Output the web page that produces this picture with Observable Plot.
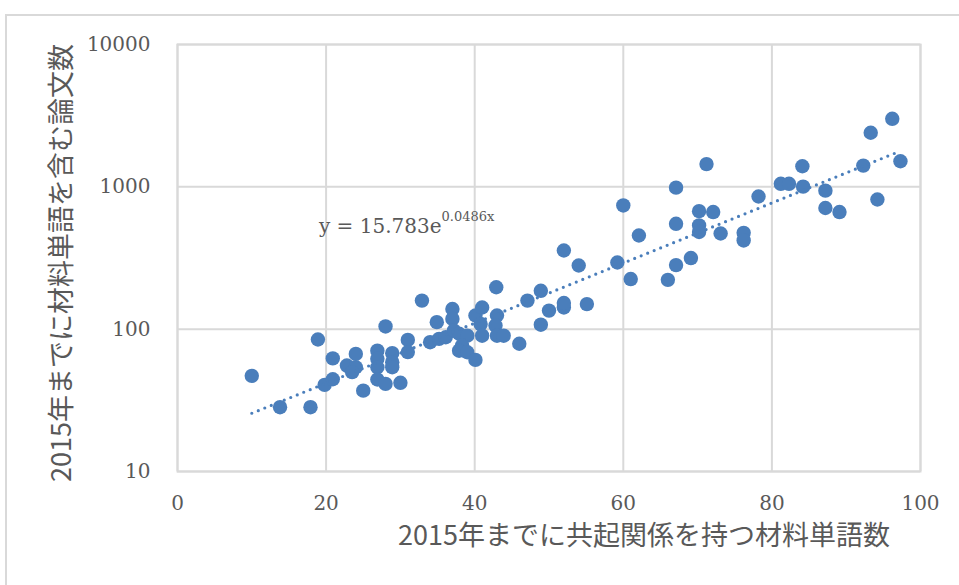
<!DOCTYPE html>
<html>
<head>
<meta charset="utf-8">
<script src="https://cdn.jsdelivr.net/npm/d3@7"></script>
<script src="https://cdn.jsdelivr.net/npm/@observablehq/plot@0.6"></script>
<style>
  body { margin: 0; background: #fff; }
  #wrap { position: relative; width: 959px; height: 585px; overflow: hidden; }
  #border { position: absolute; left: 5px; top: 14px; width: 980px; height: 600px;
            border: 2px solid #d9d9d9; pointer-events: none; box-sizing: border-box; }
</style>
</head>
<body>
<div id="wrap"><div id="border"></div></div>
<script>
// Co-occurring material word count (x) vs number of papers containing the word (y)
const wordCounts = [10, 13.8, 17.9, 18.9, 20.9, 19.8, 20.9, 28, 24, 22.8, 24, 23.5, 25, 26.9, 26.9, 26.9, 26.9, 28, 28.9, 28.9, 28.9, 30, 31, 31, 32.9, 34, 34.9, 35.2, 36.1, 37, 37, 37.2, 37.9, 39, 38.3, 37.9, 39, 40.1, 40.1, 41, 40.8, 41, 42.9, 43, 42.8, 43, 43.9, 46, 47.1, 48.9, 48.9, 50, 52, 52, 52, 54, 55.1, 59.2, 60, 61, 62.1, 66, 67.1, 67.1, 67.1, 69.1, 70.2, 70.2, 70.2, 71.2, 72.1, 73.1, 76.2, 76.2, 78.2, 81.2, 82.3, 84.1, 84.2, 87.2, 87.2, 89.1, 92.3, 93.3, 94.2, 96.2, 97.3];
const paperCounts = [47, 28.3, 28.3, 84.6, 62.3, 40.6, 44.5, 104.5, 67, 55.5, 54, 49.9, 37, 70.6, 62, 54, 44.3, 41.3, 67.8, 58.6, 54, 42, 84, 69, 158.8, 81, 112, 85.4, 87.7, 138.6, 118, 97.9, 92.9, 90, 76.7, 70.6, 68.8, 60.8, 124.8, 142, 108.6, 90, 197, 124.8, 106, 90, 90, 79, 158.8, 186, 107.5, 135, 142, 152.6, 357, 280, 150, 294, 740, 225, 455, 222, 987, 550, 282, 316, 675, 536, 482, 1445, 665, 470, 475, 420, 855, 1050, 1050, 1395, 1003, 940, 710, 665, 1410, 2400, 815, 3006, 1513];
const xTicks = [0, 20, 40, 60, 80, 100];
const yTicks = [10, 100, 1000, 10000];
// exponential trendline shown in the chart: y = 15.783 e^(0.0486 x)
const trendCoef = 15.783;
const trendRate = 0.0486;
const trendRange = [10, 97];
const xTitle = "2015年までに共起関係を持つ材料単語数";
const yTitle = "2015年までに材料単語を含む論文数";
const eqMain = "y = 15.783e";
const eqSup = "0.0486x";

const points = wordCounts.map((x, i) => ({x, y: paperCounts[i]}));
const trend = trendRange.map(x => ({x, y: trendCoef * Math.exp(trendRate * x)}));

const grey = "#595959";
const gridC = "#d9d9d9";
const dotC = "#4a7ebb";

const chart = Plot.plot({
  width: 959,
  height: 585,
  marginLeft: 177,
  marginRight: 39,
  marginTop: 44,
  marginBottom: 114,
  style: {fontFamily: "DejaVu Serif", fontSize: "20px", color: grey, background: "transparent"},
  x: {domain: [0, 100], ticks: xTicks, label: null},
  y: {type: "log", domain: [10, 10000], ticks: yTicks, label: null},
  marks: [
    Plot.gridX(xTicks, {stroke: gridC, strokeOpacity: 1, strokeWidth: 2}),
    Plot.gridY(yTicks, {stroke: gridC, strokeOpacity: 1, strokeWidth: 2}),
    Plot.frame({stroke: gridC, strokeWidth: 2}),
    Plot.axisX(xTicks, {tickSize: 0, tickPadding: 24, fill: grey, tickFormat: d => String(d), fontSize: 20}),
    Plot.axisY(yTicks, {tickSize: 0, tickPadding: 27, fill: grey, tickFormat: d => String(d), fontSize: 20}),
    Plot.dot(points, {x: "x", y: "y", r: 7.2, fill: dotC}),
    Plot.line(trend, {x: "x", y: "y", stroke: dotC, strokeWidth: 3.2, strokeDasharray: "0,7", strokeLinecap: "round"}),
    Plot.text([eqMain], {frameAnchor: "top-left", dx: 264, dy: 182, textAnchor: "end", lineAnchor: "middle", fill: grey, fontSize: 20, fontFamily: "DejaVu Serif"}),
    Plot.text([eqSup], {frameAnchor: "top-left", dx: 264, dy: 172, textAnchor: "start", lineAnchor: "middle", fill: grey, fontSize: 13, fontFamily: "DejaVu Serif"}),
    Plot.text([xTitle], {frameAnchor: "bottom", dx: 95, dy: 65, textAnchor: "middle", lineAnchor: "middle", fill: grey, fontSize: 27, fontFamily: "Noto Sans CJK JP"}),
    Plot.text([yTitle], {frameAnchor: "left", dx: -115, dy: 5, rotate: -90, textAnchor: "middle", lineAnchor: "middle", fill: grey, fontSize: 27, fontFamily: "Noto Sans CJK JP"})
  ]
});
document.getElementById("wrap").prepend(chart);
</script>
</body>
</html>
